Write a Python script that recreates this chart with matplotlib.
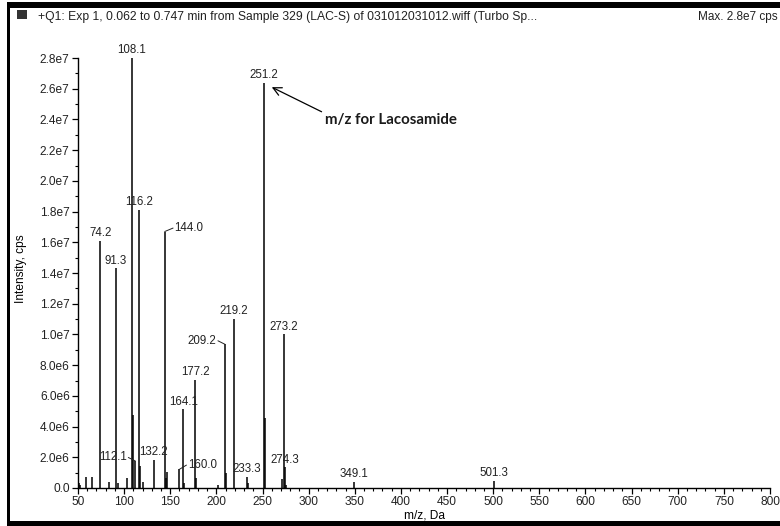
import matplotlib
matplotlib.use("Agg")
import matplotlib.pyplot as plt
from matplotlib.ticker import MultipleLocator, FixedLocator, FixedFormatter
from matplotlib.patches import Rectangle

# ---- spectrum data (m/z, intensity in cps) ----
mz = [50.5, 51.5, 52.5, 58.5, 65.0, 74.2, 84.0, 91.3, 93.0, 103.0,
      108.1, 109.1, 112.1, 116.2, 117.2, 120.0, 132.2, 144.0, 145.0, 146.3,
      160.0, 164.1, 165.1, 177.2, 178.2, 202.0, 209.2, 210.2, 219.2, 233.3,
      234.3, 251.2, 252.2, 271.2, 273.2, 274.3, 275.3, 349.1, 501.3]
intensity = [4.0e5, 3.0e5, 2.0e5, 7.4e5, 7.4e5, 1.61e7, 4.1e5, 1.43e7, 3.0e5, 6.7e5,
             2.80e7, 4.75e6, 1.76e6, 1.81e7, 1.45e6, 4.0e5, 1.82e6, 1.67e7, 6.7e5, 1.04e6,
             1.22e6, 5.12e6, 3.0e5, 7.03e6, 6.7e5, 2.0e5, 9.36e6, 1.0e6, 1.10e7, 7.4e5,
             3.0e5, 2.64e7, 4.54e6, 5.9e5, 1.0e7, 1.35e6, 2.0e5, 4.1e5, 4.6e5]

# peaks that carry a centroid label
labelled = [74.2, 91.3, 108.1, 112.1, 116.2, 132.2, 144.0, 160.0, 164.1, 177.2,
            209.2, 219.2, 233.3, 251.2, 273.2, 274.3, 349.1, 501.3]

y_ticks = [0, 2e6, 4e6, 6e6, 8e6, 1e7, 1.2e7, 1.4e7, 1.6e7, 1.8e7,
           2.0e7, 2.2e7, 2.4e7, 2.6e7, 2.8e7]
y_tick_labels = ["0.0", "2.0e6", "4.0e6", "6.0e6", "8.0e6", "1.0e7", "1.2e7", "1.4e7",
                 "1.6e7", "1.8e7", "2.0e7", "2.2e7", "2.4e7", "2.6e7", "2.8e7"]
x_ticks = list(range(50, 801, 50))

title_text = "+Q1: Exp 1, 0.062 to 0.747 min from Sample 329 (LAC-S) of 031012031012.wiff (Turbo Sp..."
max_text = "Max. 2.8e7 cps"
note_text = "m/z for Lacosamide"

FONT = "Liberation Sans"
FS = 8.3
W, H = 780, 526

fig = plt.figure(figsize=(W / 100, H / 100), dpi=100)
ax = fig.add_axes([78 / W, 38 / H, 692 / W, 430 / H])

ax.vlines(mz, 0, intensity, colors="black", linewidth=1.1)

ax.set_xlim(50, 800)
ax.set_ylim(0, 2.8e7)
for s in ("top", "right"):
    ax.spines[s].set_visible(False)
for s in ("left", "bottom"):
    ax.spines[s].set_linewidth(1.0)

ax.xaxis.set_major_locator(FixedLocator(x_ticks))
ax.xaxis.set_minor_locator(MultipleLocator(10))
ax.yaxis.set_major_locator(FixedLocator(y_ticks))
ax.yaxis.set_major_formatter(FixedFormatter(y_tick_labels))
ax.yaxis.set_minor_locator(MultipleLocator(1e6))
ax.tick_params(which="major", length=4.5, width=0.9, labelsize=FS + 0.3, pad=1.5)
ax.tick_params(which="minor", length=2.5, width=0.8)
for lab in ax.get_xticklabels() + ax.get_yticklabels():
    lab.set_fontfamily(FONT)
    lab.set_color("#222222")

ax.set_xlabel("m/z, Da", fontfamily=FONT, fontsize=FS + 0.3, labelpad=1.0)
ax.set_ylabel("Intensity, cps", fontfamily=FONT, fontsize=FS + 0.3)
ax.yaxis.set_label_coords(-(78 - 27) / 692, 0.51)

# label placement: offsets in points, alignment and hook direction
hooks = {
    144.0: dict(dx=7.0, dy=2.5, ha="left"),
    209.2: dict(dx=-6.0, dy=2.5, ha="right"),
    112.1: dict(dx=-6.0, dy=2.5, ha="right"),
    160.0: dict(dx=6.0, dy=3.0, ha="left"),
}
height = dict(zip(mz, intensity))
for m in labelled:
    top = height[m]
    if m in hooks:
        h = hooks[m]
        ax.annotate(f"{m:.1f}", xy=(m, top), xytext=(h["dx"], h["dy"]),
                    textcoords="offset points", ha=h["ha"], va="center",
                    fontsize=FS, fontfamily=FONT, color="#222222")
        sign = 1 if h["ha"] == "left" else -1
        ax.annotate("", xy=(m, top), xytext=(h["dx"] - sign * 1.0, h["dy"]),
                    textcoords="offset points",
                    arrowprops=dict(arrowstyle="-", lw=0.7, color="#222222",
                                    shrinkA=0, shrinkB=0))
    else:
        ax.annotate(f"{m:.1f}", xy=(m, top), xytext=(0, 1.2),
                    textcoords="offset points", ha="center", va="bottom",
                    fontsize=FS, fontfamily=FONT, color="#222222")

# arrow pointing at the molecular ion
ax.annotate("", xy=(260.0, 2.61e7), xytext=(314.0, 2.45e7),
            arrowprops=dict(arrowstyle="->", lw=0.9, color="black",
                            mutation_scale=15, shrinkA=0, shrinkB=0))
ax.text(318.0, 2.395e7, note_text, fontsize=10.8, fontweight="bold",
        fontfamily="Lato", color="#1a1a1a", ha="left", va="center")

# header texts
fig.text(38 / W, 1 - 17 / H, title_text, fontsize=8.75, fontfamily=FONT,
         color="#222222", ha="left", va="center")
fig.text(778 / W, 1 - 17 / H, max_text, fontsize=8.5, fontfamily=FONT,
         color="#222222", ha="right", va="center")

# window frame
def px_rect(x0, y0, x1, y1, color):
    fig.patches.append(Rectangle((x0 / W, 1 - y1 / H), (x1 - x0) / W, (y1 - y0) / H,
                                 transform=fig.transFigure, facecolor=color,
                                 edgecolor="none", zorder=10))

px_rect(7, 2, W, 8, "black")
px_rect(7, 2, 10, H, "black")
px_rect(7, 521, W, H, "black")
px_rect(17, 10, 27, 19, "#333333")

fig.savefig("out.png", dpi=100)
